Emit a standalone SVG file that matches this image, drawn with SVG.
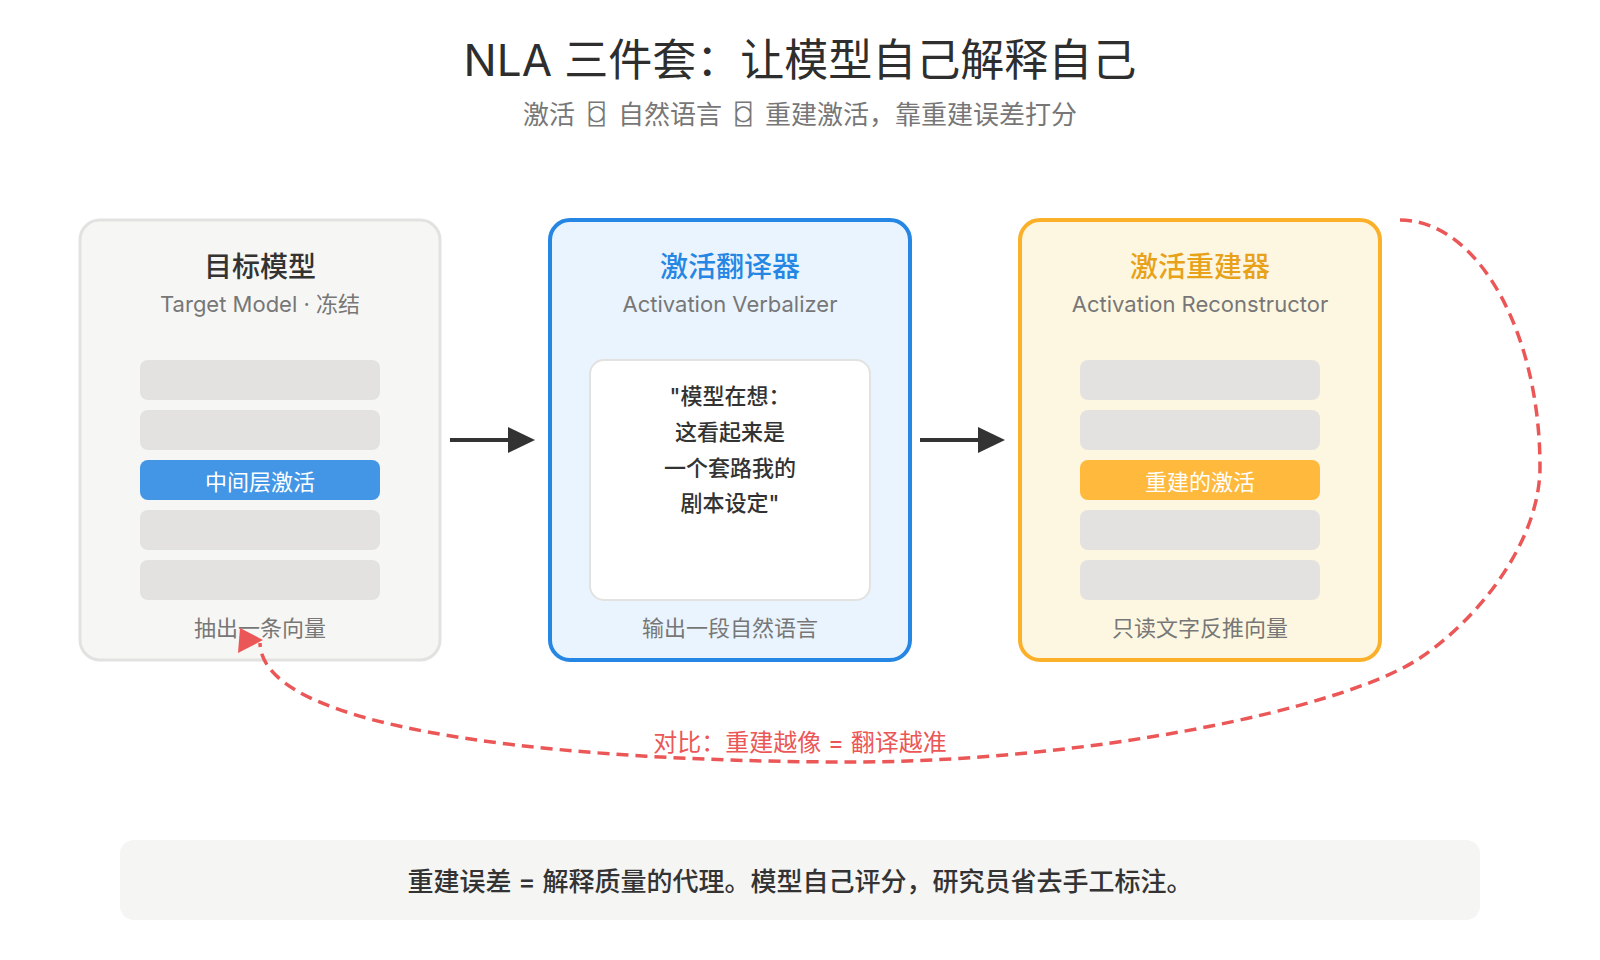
<svg xmlns="http://www.w3.org/2000/svg" width="1600" height="960" viewBox="0 0 1600 960">
<style>
text { font-family: Inter, "Noto Sans CJK SC", sans-serif; text-anchor: middle; dominant-baseline: central; }
.title { font-size: 44px; fill: #2e2e2e; }
.sub { font-size: 26px; fill: #777; }
.glyph { font-family: "DejaVu Sans Mono", monospace; font-size: 27px; }
.ntitle { font-size: 28px; font-weight: 500; }
.nsub { font-size: 22px; fill: #777; }
.bar { fill: #e3e2e0; }
.bartext { font-size: 22px; fill: #fff; }
.foot { font-size: 22px; fill: #777; }
.quote { font-size: 22px; fill: #333; font-weight: 500; }
.arrow { stroke: #333; stroke-width: 4; fill: none; }
.loop { stroke: #eb5757; stroke-width: 3.5; fill: none; stroke-dasharray: 12 7; }
</style>
<defs>
<marker id="ah" markerUnits="userSpaceOnUse" viewBox="0 0 28 26" refX="2" refY="13" markerWidth="28" markerHeight="26" orient="auto">
<path d="M0,0 L27,13 L0,26 Z" fill="#333"/>
</marker>
<marker id="ahr" markerUnits="userSpaceOnUse" viewBox="-25 -20 30 35" refX="0" refY="0" markerWidth="30" markerHeight="35" orient="0">
<polygon points="-20,-15 -22,10 3,-3" fill="#eb5757"/>
</marker>
</defs>
<rect width="1600" height="960" fill="#fff"/>

<g id="header">
<text class="title" x="800" y="60">NLA 三件套：让模型自己解释自己</text>
<text class="sub" x="800" y="114">激活 <tspan class="glyph" dx="6">⌼</tspan><tspan dx="6"> 自然语言 </tspan><tspan class="glyph" dx="6">⌼</tspan><tspan dx="6"> 重建激活，靠重建误差打分</tspan></text>
</g>

<g id="target-model">
<rect x="80" y="220" width="360" height="440" rx="20" fill="#f6f6f4" stroke="#e2e2e0" stroke-width="3"/>
<text class="ntitle" x="260" y="267" fill="#333">目标模型</text>
<text class="nsub" x="260" y="304">Target Model · 冻结</text>
<rect class="bar" x="140" y="360" width="240" height="40" rx="8"/>
<rect class="bar" x="140" y="410" width="240" height="40" rx="8"/>
<rect x="140" y="460" width="240" height="40" rx="8" fill="#4396e5"/>
<text class="bartext" x="260" y="482">中间层激活</text>
<rect class="bar" x="140" y="510" width="240" height="40" rx="8"/>
<rect class="bar" x="140" y="560" width="240" height="40" rx="8"/>
<text class="foot" x="260" y="628">抽出一条向量</text>
</g>

<g id="verbalizer">
<rect x="550" y="220" width="360" height="440" rx="20" fill="#eaf4fe" stroke="#2586e4" stroke-width="4"/>
<text class="ntitle" x="730" y="267" fill="#2586e4">激活翻译器</text>
<text class="nsub" x="730" y="304">Activation Verbalizer</text>
<rect x="590" y="360" width="280" height="240" rx="14" fill="#fff" stroke="#e2e2e0" stroke-width="2"/>
<text class="quote" x="730" y="396">"模型在想：</text>
<text class="quote" x="730" y="432">这看起来是</text>
<text class="quote" x="730" y="468">一个套路我的</text>
<text class="quote" x="730" y="503">剧本设定"</text>
<text class="foot" x="730" y="628">输出一段自然语言</text>
</g>

<g id="reconstructor">
<rect x="1020" y="220" width="360" height="440" rx="20" fill="#fdf7e2" stroke="#fbb02a" stroke-width="4"/>
<text class="ntitle" x="1200" y="267" fill="#e8a21a">激活重建器</text>
<text class="nsub" x="1200" y="304">Activation Reconstructor</text>
<rect class="bar" x="1080" y="360" width="240" height="40" rx="8"/>
<rect class="bar" x="1080" y="410" width="240" height="40" rx="8"/>
<rect x="1080" y="460" width="240" height="40" rx="8" fill="#ffb93c"/>
<text class="bartext" x="1200" y="482">重建的激活</text>
<rect class="bar" x="1080" y="510" width="240" height="40" rx="8"/>
<rect class="bar" x="1080" y="560" width="240" height="40" rx="8"/>
<text class="foot" x="1200" y="628">只读文字反推向量</text>
</g>

<g id="connectors">
<line class="arrow" x1="450" y1="440" x2="510" y2="440" marker-end="url(#ah)"/>
<line class="arrow" x1="920" y1="440" x2="980" y2="440" marker-end="url(#ah)"/>
<path class="loop" d="M1400,220 C1477,220 1540,331 1540,467 C1540,540 1480,618 1420,658 C1340,711 1080,762 850,762 C620,762 262,740 260,643" marker-end="url(#ahr)"/>
<text x="800" y="742" font-size="24" fill="#eb5757">对比：重建越像 = 翻译越准</text>
</g>

<g id="footer">
<rect x="120" y="840" width="1360" height="80" rx="14" fill="#f5f5f3"/>
<text x="800" y="881" font-size="26" font-weight="500" fill="#333">重建误差 = 解释质量的代理。模型自己评分，研究员省去手工标注。</text>
</g>
</svg>
